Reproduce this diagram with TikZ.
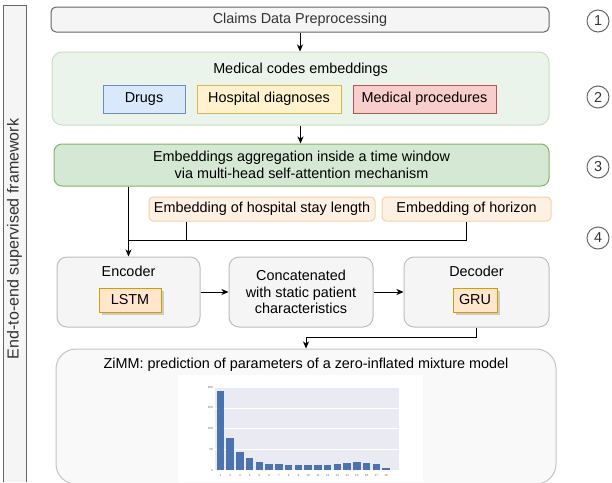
\documentclass[tikz,border=0pt]{standalone}
\usepackage{fontspec}
\setmainfont{Liberation Sans}
\usepackage{xcolor}
\usetikzlibrary{positioning, arrows.meta, calc, shadows}

\definecolor{fillgrey}{HTML}{F5F5F5}
\definecolor{linegrey}{HTML}{666666}
\definecolor{textgrey}{HTML}{333333}
\definecolor{softgrey}{HTML}{BDBDBD}
\definecolor{greenfill}{HTML}{EBF4EA}
\definecolor{greenline}{HTML}{C8E0C4}
\definecolor{aggfill}{HTML}{D5E8D4}
\definecolor{aggline}{HTML}{82B366}
\definecolor{bluefill}{HTML}{DAE8FC}
\definecolor{blueline}{HTML}{6C8EBF}
\definecolor{yellowfill}{HTML}{FFF2CC}
\definecolor{yellowline}{HTML}{D6B656}
\definecolor{redfill}{HTML}{F8CECC}
\definecolor{redline}{HTML}{B85450}
\definecolor{embfill}{HTML}{FEF1E3}
\definecolor{embline}{HTML}{F3D0A6}
\definecolor{rnnfill}{HTML}{FFE6CC}
\definecolor{rnnline}{HTML}{D79B00}
\definecolor{plotbg}{HTML}{EAEAF2}
\definecolor{barblue}{HTML}{4C72B0}

\newcommand{\diagfont}{\fontsize{14.4}{16.8}\selectfont}
\newcommand{\sidefont}{\fontsize{16}{18}\selectfont}
\newcommand{\plotfont}{\fontsize{3}{3.5}\selectfont}

\begin{document}
\begin{tikzpicture}[
	x=1pt, y=-1pt,
	% --- Styles ---
	stagebox/.style={
		rectangle, draw=linegrey, fill=fillgrey, rounded corners=5pt, line width=1pt,
		minimum width=498pt, minimum height=25pt, inner sep=0pt, font=\diagfont, text=textgrey
	},
	groupbox/.style={
		rectangle, draw=greenline, fill=greenfill, rounded corners=10pt, line width=1pt,
		minimum width=497pt, minimum height=73pt, inner sep=0pt
	},
	codebox/.style={
		rectangle, line width=1pt, minimum height=28pt, inner sep=0pt, font=\diagfont
	},
	aggbox/.style={
		rectangle, draw=aggline, fill=aggfill, rounded corners=8pt, line width=1pt,
		minimum width=495pt, minimum height=42pt, inner sep=0pt, align=center, font=\diagfont
	},
	embbox/.style={
		rectangle, draw=embline, fill=embfill, rounded corners=4pt, line width=1pt,
		minimum height=24pt, inner sep=0pt, font=\diagfont
	},
	modbox/.style={
		rectangle, draw=softgrey, fill=fillgrey, rounded corners=10pt, line width=1pt,
		minimum width=144pt, minimum height=70pt, inner sep=0pt, align=center, font=\diagfont
	},
	rnnbox/.style={
		rectangle, draw=rnnline, fill=rnnfill, line width=1pt, minimum height=24pt, inner sep=0pt,
		drop shadow={shadow xshift=2.5pt, shadow yshift=-2.5pt, fill=black!30, opacity=0.6},
		font=\diagfont
	},
	stepmark/.style={
		circle, draw=linegrey, fill=white, line width=1pt, minimum size=22pt, inner sep=0pt,
		font=\diagfont, text=textgrey
	},
	txt/.style={inner sep=0pt, font=\diagfont},
	line/.style={draw, -{Stealth[length=7pt, width=6pt, inset=2pt]}, line width=1pt},
	wire/.style={draw, line width=1pt},
	ticklabel/.style={inner sep=0pt, font=\plotfont, text=black!60}
	]
	
	\useasboundingbox (0,0) rectangle (612,482);
	
	% --- 0. Side band ---
	\fill[fillgrey] (3,5) rectangle (26,482);
	\draw[linegrey, line width=1pt] (3,482) -- (3,5) -- (26,5) -- (26,482);
	\node[rotate=90, inner sep=0pt, font=\sidefont, text=textgrey] (fwlabel) at (14.5,239) {End-to-end supervised framework};
	
	% --- 1. Preprocessing ---
	\node[stagebox] (claims) at (300,19.5) {Claims Data Preprocessing};
	
	% --- 2. Medical codes embeddings ---
	\node[groupbox] (codes) at (300.5,88.5) {};
	\node[txt] (codestitle) at (300.5,70) {Medical codes embeddings};
	\node[codebox, draw=blueline, fill=bluefill, minimum width=82pt] (drugs) at (144,99) {Drugs};
	\node[codebox, draw=yellowline, fill=yellowfill, minimum width=144pt] (diag) at (269,99) {Hospital diagnoses};
	\node[codebox, draw=redline, fill=redfill, minimum width=143pt] (proc) at (424.5,99) {Medical procedures};
	
	% --- 3. Aggregation ---
	\node[aggbox] (agg) at (301.5,165) {Embeddings aggregation inside a time window\\via multi-head self-attention mechanism};
	
	% --- 4. Extra embeddings ---
	\node[embbox, minimum width=226pt] (stay) at (262,209) {Embedding of hospital stay length};
	\node[embbox, minimum width=169pt] (horizon) at (466.5,209) {Embedding of horizon};
	
	% --- 5. Encoder / decoder ---
	\node[modbox, minimum width=143pt] (enc) at (128.5,292) {};
	\node[txt] (enctitle) at (128.5,271) {Encoder};
	\node[rnnbox, minimum width=62pt] (lstm) at (130,300) {LSTM};
	
	\node[modbox] (concat) at (301,292) {Concatenated\\with static patient\\characteristics};
	
	\node[modbox, minimum width=145pt] (dec) at (476.5,292) {};
	\node[txt] (dectitle) at (476.5,271) {Decoder};
	\node[rnnbox, minimum width=44pt] (gru) at (475,300) {GRU};
	
	% --- 6. ZiMM output ---
	\node[modbox, rounded corners=20pt, draw=softgrey!90, fill=fillgrey!60, minimum width=500pt, minimum height=135pt] (zimm) at (306,416.5) {};
	\node[txt] (zimmtitle) at (306,365) {ZiMM: prediction of parameters of a zero-inflated mixture model};
	
	% bar chart (drawn directly)
	\fill[white] (178,375) rectangle (423,482);
	\fill[plotbg] (215,387) rectangle (399,470);
	\foreach \v in {50,100,150,200} {
		\draw[white, line width=0.4pt] (215,{470-0.415*\v}) -- (399,{470-0.415*\v});
	}
	\foreach \h [count=\i] in {190,76,43,28,19,15,14,11,11,11,11,12,14,18,19,18,14,6} {
		\fill[barblue] ({220.5+9.74*(\i-1)-3.75},470) rectangle ++(7.5,{-0.415*\h});
		\node[ticklabel] at ({220.5+9.74*(\i-1)},475) {\i};
	}
	\foreach \v in {0,50,100,150,200} {
		\node[ticklabel, anchor=east] at (213,{470-0.415*\v}) {\v};
	}
	
	% --- Step markers ---
	\node[stepmark] (s1) at (598,21) {1};
	\node[stepmark] (s2) at (598,97) {2};
	\node[stepmark] (s3) at (598,167) {3};
	\node[stepmark] (s4) at (598,238) {4};
	
	% --- Connections ---
	\draw[line] (claims.south) -- (claims.south |- codes.north);
	\draw[line] (codes.south) -- (codes.south |- agg.north);
	
	% join of aggregation and the two extra embeddings
	\coordinate (joinL) at (129,240);
	\coordinate (joinS) at (186,240);
	\draw[line] (enc.north |- agg.south) -- (enc.north);
	\draw[wire] (joinS |- stay.south) -- (joinS);
	\draw[wire] (horizon.south) |- (enc.north |- joinL);
	
	\draw[line] (enc.east) -- (concat.west);
	\draw[line] (concat.east) -- (dec.west);
	
	\coordinate (bend) at (306,337);
	\draw[line] (dec.south) |- (bend) -- (zimm.north);
	
\end{tikzpicture}
\end{document}
